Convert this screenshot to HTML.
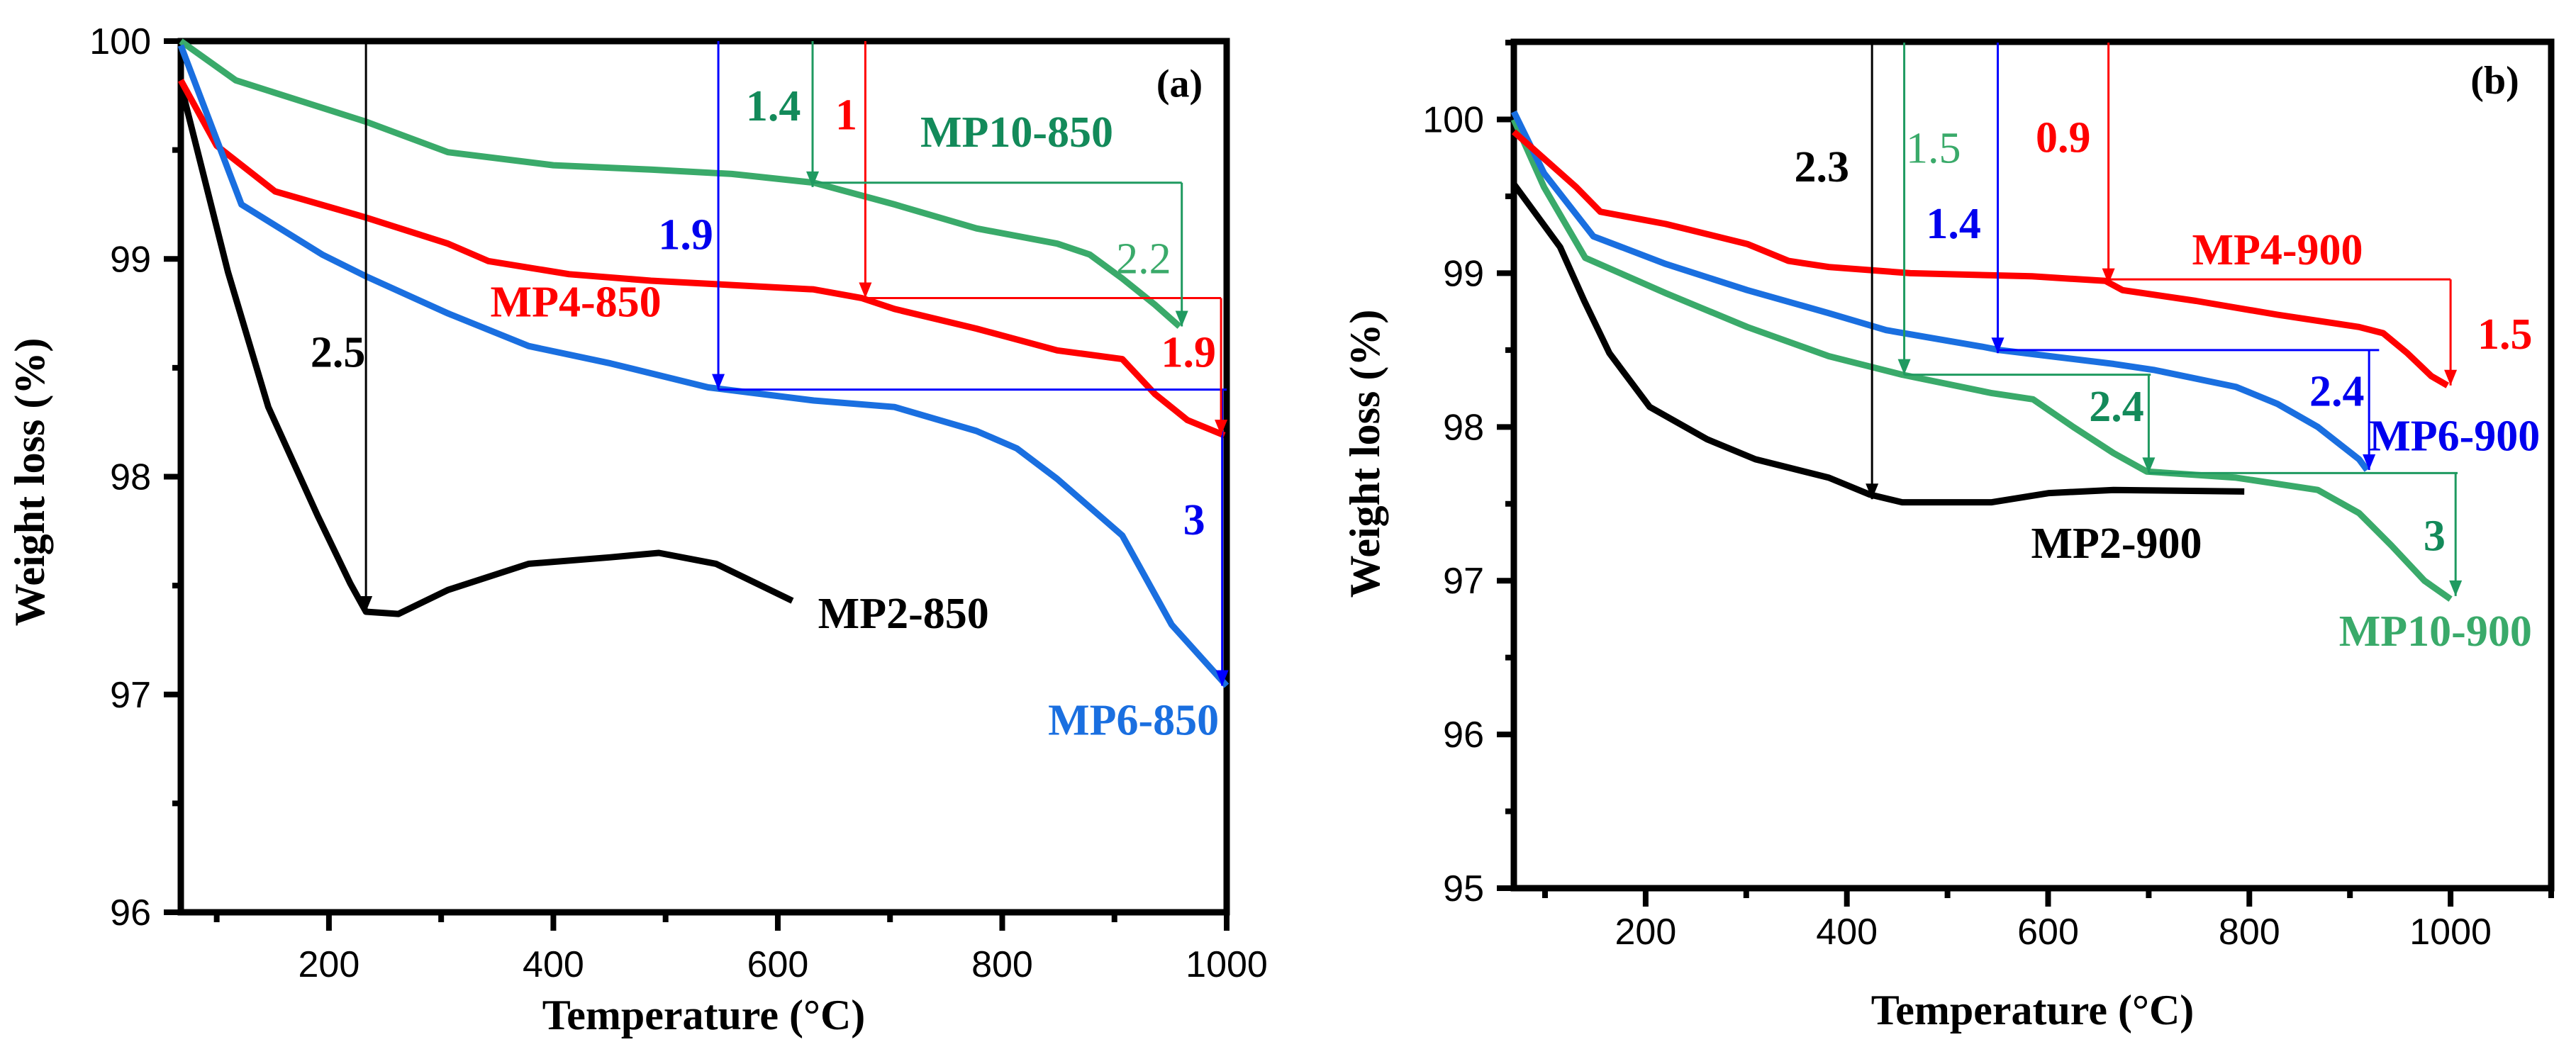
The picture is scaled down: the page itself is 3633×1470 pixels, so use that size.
<!DOCTYPE html>
<html><head><meta charset="utf-8"><style>
html,body{margin:0;padding:0;background:#fff;}
svg{display:block;}
</style></head><body>
<svg id="fig" width="3633" height="1470" viewBox="0 0 3633 1470" xmlns="http://www.w3.org/2000/svg"></svg>
<script>
// ---------- Panel (a) data ----------
const a_green_x=[68,117,233,306,400,487,559,632,704,777,849,878,907,936,958];
const a_green_y=[100,99.82,99.63,99.49,99.43,99.41,99.39,99.35,99.25,99.14,99.07,99.02,98.91,98.79,98.69];
const a_red_x=[68,100,152,233,306,342,414,487,559,632,675,704,777,849,907,936,965,998];
const a_red_y=[99.82,99.52,99.31,99.19,99.07,98.99,98.93,98.9,98.88,98.86,98.82,98.77,98.68,98.58,98.54,98.38,98.26,98.19];
const a_blue_x=[68,85,122,194,233,306,378,451,538,632,704,777,813,849,907,951,1000];
const a_blue_y=[99.98,99.75,99.25,99.02,98.92,98.75,98.6,98.52,98.41,98.35,98.32,98.21,98.13,97.99,97.73,97.32,97.04];
const a_black_x=[68,110,146,190,219,233,262,306,378,451,494,545,613];
const a_black_y=[99.8,98.94,98.32,97.82,97.51,97.38,97.37,97.48,97.6,97.63,97.65,97.6,97.43];
// ---------- Panel (b) data ----------
const b_red_x=[69,131,155,220,301,342,382,463,584,657,674,747,828,909,933,957,981,997];
const b_red_y=[99.92,99.56,99.4,99.32,99.19,99.08,99.04,99.0,98.98,98.95,98.89,98.82,98.73,98.65,98.61,98.48,98.33,98.27];
const b_blue_x=[69,99,148,220,301,382,439,536,552,665,706,787,828,868,909,917];
const b_blue_y=[100.05,99.65,99.24,99.06,98.89,98.74,98.63,98.52,98.5,98.41,98.37,98.26,98.15,98.0,97.79,97.72];
const b_green_x=[69,99,140,220,301,382,455,544,585,625,665,698,787,868,909,941,974,1000];
const b_green_y=[100.0,99.56,99.1,98.87,98.65,98.46,98.34,98.22,98.18,98.0,97.83,97.71,97.67,97.59,97.44,97.23,97.0,96.88];
const b_black_x=[69,115,139,164,204,261,309,382,423,455,544,601,665,795];
const b_black_y=[99.58,99.17,98.82,98.48,98.13,97.92,97.79,97.67,97.56,97.51,97.51,97.57,97.59,97.58];
// ticks
const a_xticks=[200,400,600,800,1000];
const a_yticks=[96,97,98,99,100];
const b_xticks=[200,400,600,800,1000];
const b_yticks=[95,96,97,98,99,100];

const NS="http://www.w3.org/2000/svg";
const svg=document.getElementById('fig');
function el(tag,attrs,parent,name,inter){
  const e=document.createElementNS(NS,tag);
  for(const k in attrs)e.setAttribute(k,attrs[k]);
  
  
  (parent||svg).appendChild(e);return e;
}
const GREEN='#3aaa6a',RED='#ff0000',BLUE='#1a6fe0',BLACK='#000';
const SERIF='"Liberation Serif", serif',SANS='"Liberation Sans", sans-serif';

function panel(P){
  const g=el('g',{},svg,P.name,false);
  const sx=v=>P.L+(v-P.x0)/(P.x1-P.x0)*(P.R-P.L);
  const sy=v=>P.B-(v-P.y0)/(P.y1-P.y0)*(P.B-P.T);
  // frame
  el('rect',{x:P.L,y:P.T,width:P.R-P.L,height:P.B-P.T,fill:'none',stroke:'#000','stroke-width':9},g,'plot-frame',false);
  // x ticks
  for(let v=100;v<=P.x1;v+=100){
    const major=v%200===0;
    el('line',{x1:sx(v),x2:sx(v),y1:P.B,y2:P.B+(major?26:14),stroke:'#000','stroke-width':8},g,'x-tick',false);
  }
  P.xt.forEach(v=>{const t=el('text',{x:sx(v),y:P.xly,'font-family':SANS,'font-size':52,'text-anchor':'middle'},g,'x-tick-label',false);t.textContent=v;});
  for(let v=P.y0;v<=P.yMaxTick+1e-9;v+=0.5){
    const major=Math.abs(v-Math.round(v))<1e-9;
    el('line',{x1:P.L-(major?24:12),x2:P.L,y1:sy(v),y2:sy(v),stroke:'#000','stroke-width':8},g,'y-tick',false);
  }
  P.yt.forEach(v=>{const t=el('text',{x:P.L-42,y:sy(v)+18,'font-family':SANS,'font-size':52,'text-anchor':'end'},g,'y-tick-label',false);t.textContent=v;});
  // titles
  let t=el('text',{x:(P.L+P.R)/2,y:P.xTitleY,'font-family':SERIF,'font-weight':'bold','font-size':60,'text-anchor':'middle'},g,'x-axis-title',false);t.textContent='Temperature (°C)';
  t=el('text',{x:0,y:0,transform:`translate(${P.yTitleX},${P.yTitleY}) rotate(-90)`,'font-family':SERIF,'font-weight':'bold','font-size':60,'text-anchor':'middle'},g,'y-axis-title',false);t.textContent='Weight loss (%)';
  // series
  P.series.forEach(s=>{
    const d=s.x.map((v,i)=>(i?'L':'M')+sx(v).toFixed(1)+','+sy(s.y[i]).toFixed(1)).join(' ');
    el('path',{d:d,fill:'none',stroke:s.c,'stroke-width':9,'stroke-linejoin':'round'},g,s.name,false);
  });
  // annotation lines
  P.ann.forEach(a=>{
    const c=a.c;
    el('line',{x1:sx(a.x1),y1:sy(a.y1),x2:sx(a.x2),y2:sy(a.y2),stroke:c,'stroke-width':3},g,a.name,false);
    if(a.arrow){
      const X=sx(a.x2),Y=sy(a.y2);
      el('polygon',{points:`${X-9},${Y-22} ${X+9},${Y-22} ${X},${Y}`,fill:c},g,a.name+'-head',false);
    }
  });
  P.labels.forEach(l=>{
    const t=el('text',{x:sx(l.x),y:sy(l.y)+20,fill:l.c,'font-family':SERIF,'font-weight':l.w||'bold','font-size':l.s||62,'text-anchor':'middle'},g,l.name,false);
    t.textContent=l.t;
  });
}
const DG='#138a5a',LG='#3aaa6a',BL='#0000ee';
panel({name:'panel-a',L:255,R:1730,T:58,B:1287,x0:68,x1:1000,y0:96,y1:100,yMaxTick:100,xt:a_xticks,yt:a_yticks,xly:1378,xTitleY:1452,yTitleX:62,yTitleY:680,
 series:[{x:a_black_x,y:a_black_y,c:BLACK,name:'mp2-850-line'},{x:a_green_x,y:a_green_y,c:GREEN,name:'mp10-850-line'},{x:a_red_x,y:a_red_y,c:RED,name:'mp4-850-line'},{x:a_blue_x,y:a_blue_y,c:BLUE,name:'mp6-850-line'}],
 ann:[
  {x1:233,y1:100,x2:233,y2:97.38,c:BLACK,arrow:1,name:'mp2-850-arrow'},
  {x1:547,y1:100,x2:547,y2:98.4,c:'#0000ff',arrow:1,name:'mp6-850-arrow1'},
  {x1:547,y1:98.4,x2:1000,y2:98.4,c:'#0000ff',name:'mp6-850-hline'},
  {x1:996,y1:98.4,x2:996,y2:97.04,c:'#0000ff',arrow:1,name:'mp6-850-arrow2'},
  {x1:678,y1:100,x2:678,y2:98.82,c:RED,arrow:1,name:'mp4-850-arrow1'},
  {x1:678,y1:98.82,x2:995,y2:98.82,c:RED,name:'mp4-850-hline'},
  {x1:995,y1:98.82,x2:995,y2:98.19,c:RED,arrow:1,name:'mp4-850-arrow2'},
  {x1:631,y1:100,x2:631,y2:99.33,c:'#1f9a60',arrow:1,name:'mp10-850-arrow1'},
  {x1:631,y1:99.35,x2:960,y2:99.35,c:'#1f9a60',name:'mp10-850-hline'},
  {x1:960,y1:99.35,x2:960,y2:98.69,c:'#1f9a60',arrow:1,name:'mp10-850-arrow2'}],
 labels:[
  {t:'2.5',x:208,y:98.57,c:BLACK,name:'label-2-5'},
  {t:'1.9',x:518,y:99.11,c:BL,name:'label-blue-1-9'},
  {t:'3',x:971,y:97.8,c:BL,name:'label-blue-3'},
  {t:'1',x:661,y:99.66,c:RED,name:'label-red-1'},
  {t:'1.9',x:966,y:98.57,c:RED,name:'label-red-1-9'},
  {t:'1.4',x:596,y:99.7,c:DG,name:'label-green-1-4'},
  {t:'2.2',x:926,y:99.0,c:LG,w:'normal',name:'label-green-2-2'},
  {t:'MP10-850',x:813,y:99.58,c:DG,name:'mp10-850-label'},
  {t:'MP4-850',x:420,y:98.8,c:RED,name:'mp4-850-label'},
  {t:'MP2-850',x:712,y:97.37,c:BLACK,name:'mp2-850-label'},
  {t:'MP6-850',x:917,y:96.88,c:BLUE,name:'mp6-850-label'},
  {t:'(a)',x:958,y:99.81,c:BLACK,s:56,name:'panel-a-tag'}]
});
panel({name:'panel-b',L:2135,R:3598,T:59,B:1253,x0:69,x1:1100,y0:95,y1:100.505,yMaxTick:100.5,xt:b_xticks,yt:b_yticks,xly:1332,xTitleY:1445,yTitleX:1945,yTitleY:640,
 series:[{x:b_black_x,y:b_black_y,c:BLACK,name:'mp2-900-line'},{x:b_green_x,y:b_green_y,c:GREEN,name:'mp10-900-line'},{x:b_blue_x,y:b_blue_y,c:BLUE,name:'mp6-900-line'},{x:b_red_x,y:b_red_y,c:RED,name:'mp4-900-line'}],
 ann:[
  {x1:425,y1:100.5,x2:425,y2:97.53,c:BLACK,arrow:1,name:'mp2-900-arrow'},
  {x1:457,y1:100.5,x2:457,y2:98.34,c:'#1f9a60',arrow:1,name:'mp10-900-arrow1'},
  {x1:457,y1:98.34,x2:702,y2:98.34,c:'#1f9a60',name:'mp10-900-hline1'},
  {x1:700,y1:98.34,x2:700,y2:97.7,c:'#1f9a60',arrow:1,name:'mp10-900-arrow2'},
  {x1:700,y1:97.7,x2:1007,y2:97.7,c:'#1f9a60',name:'mp10-900-hline2'},
  {x1:1005,y1:97.7,x2:1005,y2:96.9,c:'#1f9a60',arrow:1,name:'mp10-900-arrow3'},
  {x1:550,y1:100.5,x2:550,y2:98.48,c:'#0000ff',arrow:1,name:'mp6-900-arrow1'},
  {x1:550,y1:98.5,x2:929,y2:98.5,c:'#0000ff',name:'mp6-900-hline'},
  {x1:919,y1:98.5,x2:919,y2:97.72,c:'#0000ff',arrow:1,name:'mp6-900-arrow2'},
  {x1:660,y1:100.5,x2:660,y2:98.93,c:RED,arrow:1,name:'mp4-900-arrow1'},
  {x1:660,y1:98.96,x2:1000,y2:98.96,c:RED,name:'mp4-900-hline'},
  {x1:1000,y1:98.96,x2:1000,y2:98.27,c:RED,arrow:1,name:'mp4-900-arrow2'}],
 labels:[
  {t:'2.3',x:375,y:99.69,c:BLACK,name:'label-2-3'},
  {t:'1.5',x:486,y:99.81,c:LG,w:'normal',name:'label-green-1-5'},
  {t:'2.4',x:668,y:98.13,c:DG,name:'label-green-2-4'},
  {t:'3',x:984,y:97.29,c:DG,name:'label-green-3'},
  {t:'1.4',x:506,y:99.32,c:BL,name:'label-blue-1-4'},
  {t:'2.4',x:887,y:98.23,c:BL,name:'label-blue-2-4'},
  {t:'MP6-900',x:1004,y:97.94,c:BL,name:'mp6-900-label'},
  {t:'0.9',x:615,y:99.88,c:RED,name:'label-red-0-9'},
  {t:'MP4-900',x:828,y:99.15,c:RED,name:'mp4-900-label'},
  {t:'1.5',x:1054,y:98.6,c:RED,name:'label-red-1-5'},
  {t:'MP2-900',x:668,y:97.24,c:BLACK,name:'mp2-900-label'},
  {t:'MP10-900',x:985,y:96.67,c:LG,name:'mp10-900-label'},
  {t:'(b)',x:1044,y:100.26,c:BLACK,s:56,name:'panel-b-tag'}]
});
</script>
</body></html>
